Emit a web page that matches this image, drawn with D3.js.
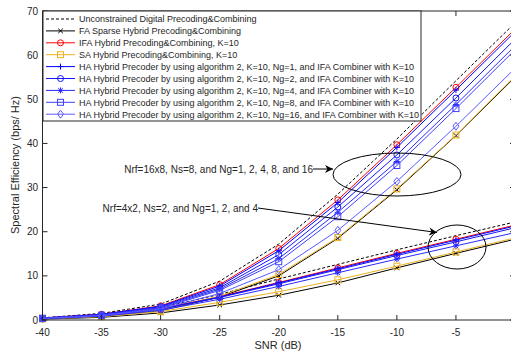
<!DOCTYPE html>
<html lang="en">
<head>
  <meta charset="UTF-8">
  <title>Spectral Efficiency vs SNR</title>
  <script src="https://d3js.org/d3.v7.min.js"></script>
  <style>
    body { margin: 0; background: #fff; }
    text { font-family: "Liberation Sans", Arial, sans-serif; fill: #262626; }
  </style>
</head>
<body>
  <svg width="511" height="353"></svg>

  <script>
    const snr = [-40, -35, -30, -25, -20, -15, -10, -5, 0];

    // Nrf=16x8, Ns=8
    const hiUnconstrained = [0.5, 1.5, 3.6, 8.8, 17.2, 28.5, 41.0, 54.2, 67.3];
    const hiFA  = [0.3, 0.85, 2.1, 5.2, 10.0, 18.5, 29.5, 41.8, 55.0];
    const hiIFA = [0.45, 1.3, 3.2, 8.0, 16.2, 27.2, 39.7, 52.7, 65.9];
    const hiSA  = [0.3, 0.9, 2.2, 5.4, 10.3, 18.7, 29.7, 41.9, 55.2];
    const hiHA1  = [0.45, 1.3, 3.1, 7.7, 15.7, 26.6, 39.1, 52.1, 65.3];
    const hiHA2  = [0.4, 1.2, 3.0, 7.3, 14.8, 25.6, 37.4, 50.3, 63.6];
    const hiHA4  = [0.4, 1.15, 2.8, 7.0, 13.9, 24.4, 35.9, 48.8, 62.1];
    const hiHA8  = [0.4, 1.1, 2.7, 6.7, 13.2, 23.4, 35.0, 47.9, 61.2];
    const hiHA16 = [0.35, 1.0, 2.5, 6.0, 11.4, 20.3, 31.4, 43.9, 57.0];

    // Nrf=4x2, Ns=2
    const loUnconstrained = [0.35, 1.1, 2.8, 5.8, 9.3, 12.6, 15.9, 19.1, 22.2];
    const loFA  = [0.2, 0.6, 1.6, 3.4, 5.6, 8.4, 11.8, 15.1, 18.3];
    const loIFA = [0.33, 1.0, 2.6, 5.3, 8.5, 11.8, 15.1, 18.3, 21.5];
    const loSA  = [0.25, 0.75, 1.9, 4.0, 6.4, 9.1, 12.2, 15.4, 18.6];
    const loHA1 = [0.32, 1.0, 2.5, 5.2, 8.4, 11.6, 14.9, 18.1, 21.3];
    const loHA2 = [0.3, 0.95, 2.45, 5.1, 8.2, 11.4, 14.6, 17.7, 20.9];
    const loHA4 = [0.28, 0.85, 2.2, 4.7, 7.6, 10.7, 13.8, 16.8, 19.8];

    const legendLabels = [
      "Unconstrained Digital Precoding&Combining",
      "FA Sparse Hybrid Precoding&Combining",
      "IFA Hybrid Precoding&Combining, K=10",
      "SA Hybrid Precoding&Combining, K=10",
      "HA Hybrid Precoder by using algorithm 2, K=10, Ng=1, and IFA Combiner with K=10",
      "HA Hybrid Precoder by using algorithm 2, K=10, Ng=2, and IFA Combiner with K=10",
      "HA Hybrid Precoder by using algorithm 2, K=10, Ng=4, and IFA Combiner with K=10",
      "HA Hybrid Precoder by using algorithm 2, K=10, Ng=8, and IFA Combiner with K=10",
      "HA Hybrid Precoder by using algorithm 2, K=10, Ng=16, and IFA Combiner with K=10"
    ];
    const xTicks = [-40, -35, -30, -25, -20, -15, -10, -5, 0];
    const yTicks = [0, 10, 20, 30, 40, 50, 60, 70];

    const series = [
      { label: legendLabels[0], color: "#000", dash: "3,2", marker: null, data: [hiUnconstrained, loUnconstrained] },
      { label: legendLabels[1], color: "#000", marker: "x", data: [hiFA, loFA] },
      { label: legendLabels[2], color: "#ff0000", marker: "o", data: [hiIFA, loIFA] },
      { label: legendLabels[3], color: "#edb120", marker: "s", data: [hiSA, loSA] },
      { label: legendLabels[4], color: "#0000ff", marker: "+", data: [hiHA1, loHA1] },
      { label: legendLabels[5], color: "#1515ff", marker: "o", data: [hiHA2, loHA2] },
      { label: legendLabels[6], color: "#2a2aff", marker: "*", data: [hiHA4, loHA4] },
      { label: legendLabels[7], color: "#4040ff", marker: "s", data: [hiHA8] },
      { label: legendLabels[8], color: "#5a5aff", marker: "d", data: [hiHA16] }
    ];

    const svg = d3.select("svg");
    const x = d3.scaleLinear().domain([-40, 0]).range([42.5, 515]);
    const y = d3.scaleLinear().domain([0, 70]).range([320, 11]);

    function drawMarker(g, type, cx, cy, color) {
      const s = 3;
      if (type === "o") {
        g.append("circle").attr("cx", cx).attr("cy", cy).attr("r", s)
          .attr("fill", "none").attr("stroke", color);
      } else if (type === "s") {
        g.append("rect").attr("x", cx - s).attr("y", cy - s).attr("width", 2 * s).attr("height", 2 * s)
          .attr("fill", "none").attr("stroke", color);
      } else if (type === "d") {
        g.append("path").attr("d", `M${cx},${cy - 4}L${cx + 3},${cy}L${cx},${cy + 4}L${cx - 3},${cy}Z`)
          .attr("fill", "none").attr("stroke", color);
      } else if (type === "+") {
        g.append("path").attr("d", `M${cx - s},${cy}H${cx + s}M${cx},${cy - s}V${cy + s}`)
          .attr("stroke", color);
      } else if (type === "x") {
        const k = 2.3;
        g.append("path").attr("d", `M${cx - k},${cy - k}L${cx + k},${cy + k}M${cx - k},${cy + k}L${cx + k},${cy - k}`)
          .attr("stroke", color);
      } else if (type === "*") {
        const k = 2.3;
        g.append("path").attr("d", `M${cx - s},${cy}H${cx + s}M${cx},${cy - s}V${cy + s}M${cx - k},${cy - k}L${cx + k},${cy + k}M${cx - k},${cy + k}L${cx + k},${cy - k}`)
          .attr("stroke", color);
      }
    }

    const line = d3.line().x((d, i) => x(snr[i])).y(d => y(d));
    const plot = svg.append("g");

    series.forEach(s => {
      s.data.forEach(vals => {
        plot.append("path")
          .attr("d", line(vals))
          .attr("fill", "none")
          .attr("stroke", s.color)
          .attr("stroke-width", 1)
          .attr("stroke-dasharray", s.dash || null);
        if (s.marker) {
          vals.forEach((v, i) => drawMarker(plot, s.marker, x(snr[i]), y(v), s.color));
        }
      });
    });

    // axes box
    const axisColor = "#262626";
    svg.append("rect").attr("x", x(-40)).attr("y", y(70))
      .attr("width", x(0) - x(-40)).attr("height", y(0) - y(70))
      .attr("fill", "none").attr("stroke", axisColor);

    xTicks.forEach(t => {
      svg.append("line").attr("x1", x(t)).attr("x2", x(t)).attr("y1", y(0)).attr("y2", y(0) - 5).attr("stroke", axisColor);
      svg.append("line").attr("x1", x(t)).attr("x2", x(t)).attr("y1", y(70)).attr("y2", y(70) + 5).attr("stroke", axisColor);
      // the last label falls outside the cropped picture
      if (x(t) < 505) {
        svg.append("text").attr("x", x(t)).attr("y", 336).attr("text-anchor", "middle")
          .attr("font-size", 10).text(t);
      }
    });
    yTicks.forEach(t => {
      svg.append("line").attr("x1", x(-40)).attr("x2", x(-40) + 5).attr("y1", y(t)).attr("y2", y(t)).attr("stroke", axisColor);
      svg.append("line").attr("x1", x(0)).attr("x2", x(0) - 5).attr("y1", y(t)).attr("y2", y(t)).attr("stroke", axisColor);
      svg.append("text").attr("x", 38).attr("y", y(t) + 3.5).attr("text-anchor", "end")
        .attr("font-size", 10).text(t);
    });

    svg.append("text").attr("x", 278).attr("y", 349).attr("text-anchor", "middle")
      .attr("font-size", 11).text("SNR (dB)");
    svg.append("text").attr("transform", "translate(19,165) rotate(-90)").attr("text-anchor", "middle")
      .attr("font-size", 11).text("Spectral Efficiency (bps/ Hz)");

    // annotations
    svg.append("defs").append("marker")
      .attr("id", "arrow").attr("viewBox", "0 0 10 10").attr("refX", 10).attr("refY", 5)
      .attr("markerWidth", 10).attr("markerHeight", 8).attr("markerUnits", "userSpaceOnUse")
      .attr("orient", "auto")
      .append("path").attr("d", "M0,0L10,5L0,10L3,5Z").attr("fill", "#000");

    svg.append("text").attr("x", 313).attr("y", 172.5).attr("font-size", 10)
      .attr("text-anchor", "end")
      .text("Nrf=16x8, Ns=8, and Ng=1, 2, 4, 8, and 16");
    svg.append("line").attr("x1", 313).attr("y1", 169).attr("x2", 333).attr("y2", 169)
      .attr("stroke", "#000").attr("marker-end", "url(#arrow)");
    svg.append("ellipse").attr("cx", 397).attr("cy", 174.5).attr("rx", 64).attr("ry", 21.5)
      .attr("fill", "none").attr("stroke", "#000");

    svg.append("text").attr("x", 258).attr("y", 211.5).attr("font-size", 10)
      .attr("text-anchor", "end")
      .text("Nrf=4x2, Ns=2, and Ng=1, 2, and 4");
    svg.append("line").attr("x1", 258).attr("y1", 208).attr("x2", 437).attr("y2", 232.5)
      .attr("stroke", "#000").attr("marker-end", "url(#arrow)");
    svg.append("ellipse").attr("cx", 457).attr("cy", 247).attr("rx", 29).attr("ry", 22)
      .attr("fill", "none").attr("stroke", "#000");

    // legend
    const lg = svg.append("g");
    lg.append("rect").attr("x", 43).attr("y", 11).attr("width", 378).attr("height", 110)
      .attr("fill", "#fff").attr("stroke", axisColor);
    series.forEach((s, i) => {
      const ly = 19 + i * 11.9;
      lg.append("line").attr("x1", 46).attr("x2", 75).attr("y1", ly).attr("y2", ly)
        .attr("stroke", s.color).attr("stroke-dasharray", s.dash || null);
      if (s.marker) drawMarker(lg, s.marker, 60.5, ly, s.color);
      lg.append("text").attr("x", 79).attr("y", ly + 3.3).attr("font-size", 9).text(s.label);
    });
  </script>
</body>
</html>
